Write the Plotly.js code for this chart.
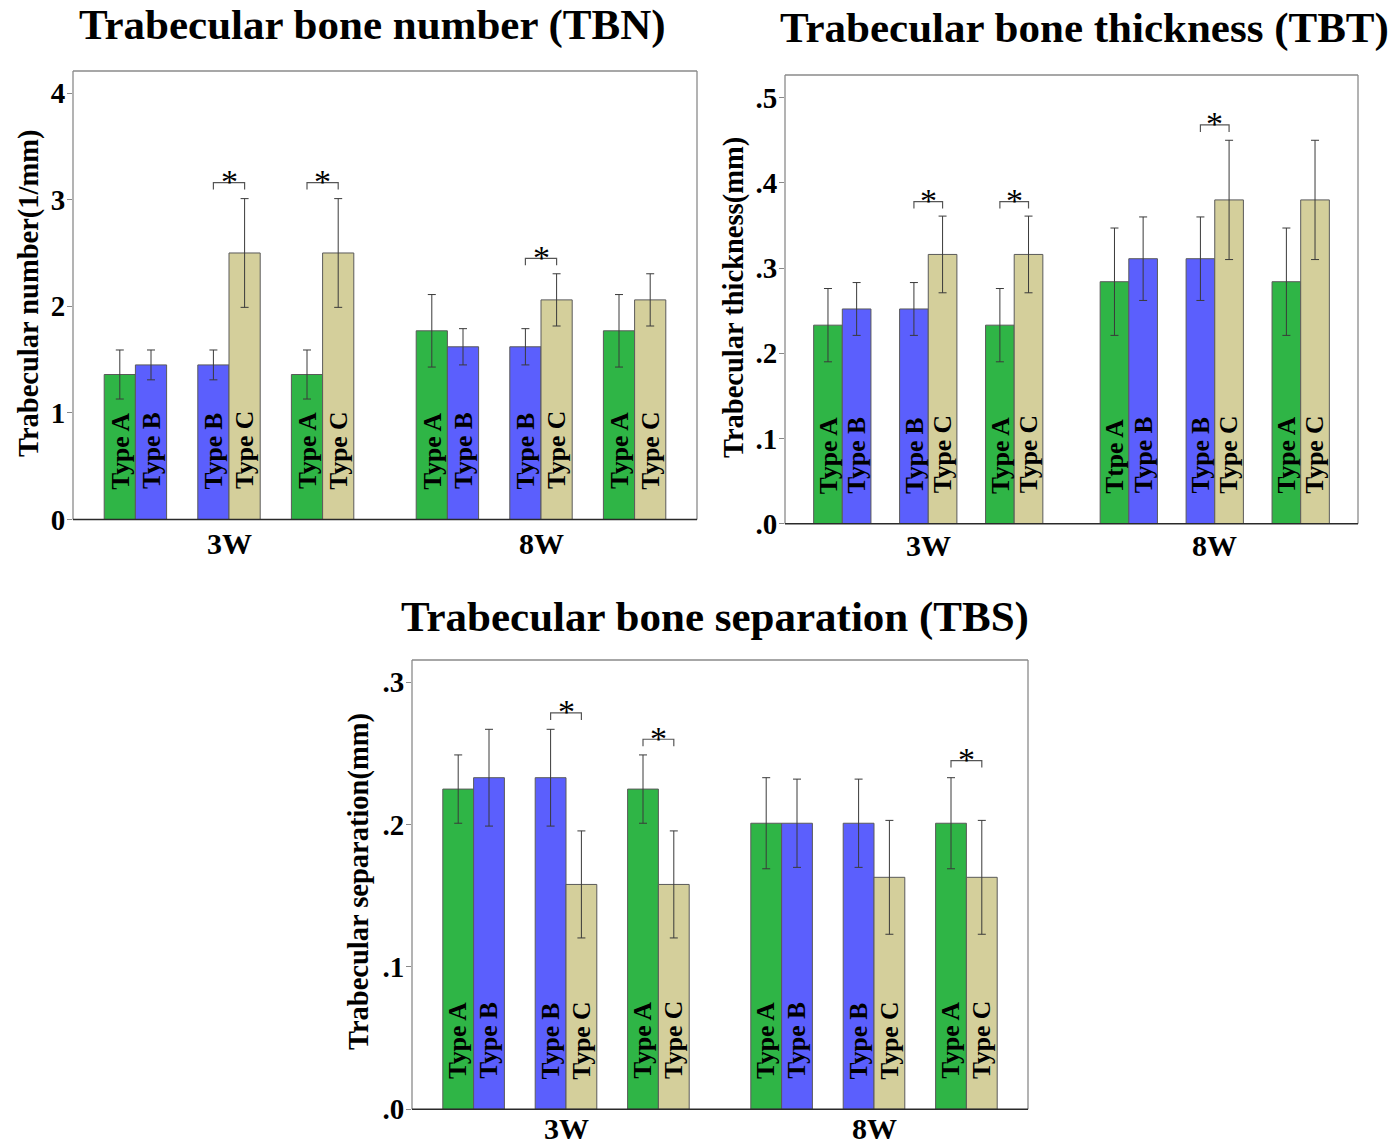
<!DOCTYPE html>
<html>
<head>
<meta charset="utf-8">
<script src="https://cdn.plot.ly/plotly-3.0.1.min.js"></script>
<style>html,body{margin:0;padding:0;background:#fff;}#chart{width:1390px;height:1147px;}</style>
</head>
<body>
<div id="chart"></div>
<script>
// ---------- data ----------
const groupLabels = ['3W', '8W'];
const leftTypes  = ['A', 'B', 'A', 'A', 'B', 'A'];
const rightTypes = ['B', 'C', 'C', 'B', 'C', 'C'];

// Trabecular bone number (TBN)
const tbnLeft      = [1.36, 1.45, 1.36, 1.77, 1.62, 1.77];
const tbnLeftErr   = [0.23, 0.14, 0.23, 0.34, 0.17, 0.34];
const tbnRight     = [1.45, 2.50, 2.50, 1.62, 2.06, 2.06];
const tbnRightErr  = [0.14, 0.51, 0.51, 0.17, 0.245, 0.245];
const tbnLeftLabels  = ['Type A', 'Type B', 'Type A', 'Type A', 'Type B', 'Type A'];
const tbnRightLabels = ['Type B', 'Type C', 'Type C', 'Type B', 'Type C', 'Type C'];
const tbnSigPairs  = [1, 2, 4];
const tbnSigLevels = [3.16, 3.16, 2.45];
const tbnTickVals  = [0, 1, 2, 3, 4];
const tbnTickText  = ['0', '1', '2', '3', '4'];

// Trabecular bone thickness (TBT)
const tbtLeft      = [0.233, 0.252, 0.233, 0.284, 0.311, 0.284];
const tbtLeftErr   = [0.043, 0.031, 0.043, 0.063, 0.049, 0.063];
const tbtRight     = [0.252, 0.316, 0.316, 0.311, 0.380, 0.380];
const tbtRightErr  = [0.031, 0.045, 0.045, 0.049, 0.070, 0.070];
const tbtLeftLabels  = ['Type A', 'Type B', 'Type A', 'Ttpe A', 'Type B', 'Type A'];
const tbtRightLabels = ['Type B', 'Type C', 'Type C', 'Type B', 'Type C', 'Type C'];
const tbtSigPairs  = [1, 2, 4];
const tbtSigLevels = [0.378, 0.378, 0.468];
const tbtTickVals  = [0, 0.1, 0.2, 0.3, 0.4, 0.5];
const tbtTickText  = ['.0', '.1', '.2', '.3', '.4', '.5'];

// Trabecular bone separation (TBS)
const tbsLeft      = [0.225, 0.233, 0.225, 0.201, 0.201, 0.201];
const tbsLeftErr   = [0.024, 0.034, 0.024, 0.032, 0.031, 0.032];
const tbsRight     = [0.233, 0.158, 0.158, 0.201, 0.163, 0.163];
const tbsRightErr  = [0.034, 0.0376, 0.0376, 0.031, 0.040, 0.040];
const tbsLeftLabels  = ['Type A', 'Type B', 'Type A', 'Type A', 'Type B', 'Type A'];
const tbsRightLabels = ['Type B', 'Type C', 'Type C', 'Type B', 'Type C', 'Type C'];
const tbsSigPairs  = [1, 2, 5];
const tbsSigLevels = [0.2785, 0.260, 0.245];
const tbsTickVals  = [0, 0.1, 0.2, 0.3];
const tbsTickText  = ['.0', '.1', '.2', '.3'];

// ---------- styling ----------
const W = 1390, H = 1147;
const typeColors = { A: '#2fb546', B: '#5b5ffd', C: '#d4cf9b' };
const SERIF = '"Liberation Serif", "Times New Roman", serif';

const panels = [
  { title: 'Trabecular bone number (TBN)', ytitle: 'Trabecular number(1/mm)',
    left: tbnLeft, leftErr: tbnLeftErr, right: tbnRight, rightErr: tbnRightErr,
    leftLabels: tbnLeftLabels, rightLabels: tbnRightLabels,
    sigPairs: tbnSigPairs, sigLevels: tbnSigLevels, tickVals: tbnTickVals, tickText: tbnTickText,
    yMax: 4.207, box: [73, 697, 71, 519.5], titlePos: [372, 25], ytitlePos: [29, 294], glOff: 24 },
  { title: 'Trabecular bone thickness (TBT)', ytitle: 'Trabecular thickness(mm)',
    left: tbtLeft, leftErr: tbtLeftErr, right: tbtRight, rightErr: tbtRightErr,
    leftLabels: tbtLeftLabels, rightLabels: tbtRightLabels,
    sigPairs: tbtSigPairs, sigLevels: tbtSigLevels, tickVals: tbtTickVals, tickText: tbtTickText,
    yMax: 0.5266, box: [785, 1358, 75, 523.7], titlePos: [1084, 28], ytitlePos: [734, 298], glOff: 22 },
  { title: 'Trabecular bone separation (TBS)', ytitle: 'Trabecular separation(mm)',
    left: tbsLeft, leftErr: tbsLeftErr, right: tbsRight, rightErr: tbsRightErr,
    leftLabels: tbsLeftLabels, rightLabels: tbsRightLabels,
    sigPairs: tbsSigPairs, sigLevels: tbsSigLevels, tickVals: tbsTickVals, tickText: tbsTickText,
    yMax: 0.3157, box: [412, 1028, 660, 1109.3], titlePos: [715, 617], ytitlePos: [359, 882], glOff: 19 }
];

// pair centre positions on a 0..20 bar-width axis (layout only)
function pairCenter(i) { return Math.floor(i / 3) * 10 + (i % 3) * 3 + 2; }
const centers = leftTypes.map((_, i) => pairCenter(i));

const traces = [], annotations = [], shapes = [];
const layout = {
  width: W, height: H, margin: { l: 0, r: 0, t: 0, b: 0 },
  paper_bgcolor: '#fff', plot_bgcolor: '#fff', showlegend: false,
  font: { family: SERIF, color: '#000' }
};

panels.forEach((p, k) => {
  const sfx = k === 0 ? '' : String(k + 1);
  const xa = 'x' + sfx, ya = 'y' + sfx;
  const [x0, x1, yTop, yBot] = p.box;
  const plotH = yBot - yTop;

  layout['xaxis' + sfx] = {
    domain: [x0 / W, x1 / W], anchor: ya, range: [0, 20],
    showgrid: false, zeroline: false, showticklabels: false, ticks: '', showline: false, fixedrange: true
  };
  layout['yaxis' + sfx] = {
    domain: [(H - yBot) / H, (H - yTop) / H], anchor: xa, range: [0, p.yMax],
    showgrid: false, zeroline: false, showline: false,
    ticks: 'outside', ticklen: 5, tickwidth: 1, tickcolor: '#888',
    tickvals: p.tickVals, ticktext: p.tickText, ticklabelstandoff: -4,
    tickfont: { family: SERIF, size: 29, weight: 'bold', color: '#000' }, fixedrange: true
  };

  const common = { type: 'bar', xaxis: xa, yaxis: ya, width: 1, hoverinfo: 'skip' };
  traces.push(Object.assign({}, common, {
    x: centers.map(c => c - 0.5), y: p.left,
    marker: { color: leftTypes.map(t => typeColors[t]), line: { color: '#5a5a5a', width: 1 } },
    error_y: { type: 'data', array: p.leftErr, visible: true, color: '#3a3a3a', thickness: 1, width: 4 }
  }));
  traces.push(Object.assign({}, common, {
    x: centers.map(c => c + 0.5), y: p.right,
    marker: { color: rightTypes.map(t => typeColors[t]), line: { color: '#5a5a5a', width: 1 } },
    error_y: { type: 'data', array: p.rightErr, visible: true, color: '#3a3a3a', thickness: 1, width: 4 }
  }));

  // bar labels
  centers.forEach((c, i) => {
    [[c - 0.5, p.leftLabels[i]], [c + 0.5, p.rightLabels[i]]].forEach(([xx, txt]) => {
      annotations.push({
        x: xx, y: 0, xref: xa, yref: ya, text: txt, showarrow: false, textangle: -90,
        xanchor: 'center', yanchor: 'bottom', yshift: 28,
        font: { family: SERIF, size: 25.5, weight: 'bold', color: '#000' }
      });
    });
  });

  // frame
  const gray = { color: '#8a8a8a', width: 1.3 };
  shapes.push({ type: 'line', xref: xa + ' domain', yref: ya + ' domain', x0: 0, x1: 0, y0: 0, y1: 1, line: gray, layer: 'above' });
  shapes.push({ type: 'line', xref: xa + ' domain', yref: ya + ' domain', x0: 1, x1: 1, y0: 0, y1: 1, line: gray, layer: 'above' });
  shapes.push({ type: 'line', xref: xa + ' domain', yref: ya + ' domain', x0: 0, x1: 1, y0: 1, y1: 1, line: gray, layer: 'above' });
  shapes.push({ type: 'line', xref: xa + ' domain', yref: ya + ' domain', x0: 0, x1: 1, y0: 0, y1: 0, line: { color: '#2a2a2a', width: 1.6 }, layer: 'above' });

  // significance brackets
  const tick = p.yMax * 7 / plotH;
  p.sigPairs.forEach((pi, j) => {
    const c = centers[pi], lv = p.sigLevels[j];
    shapes.push({
      type: 'path', xref: xa, yref: ya,
      path: `M ${c - 0.5},${lv - tick} L ${c - 0.5},${lv} L ${c + 0.5},${lv} L ${c + 0.5},${lv - tick}`,
      line: { color: '#555', width: 1.2 }
    });
    annotations.push({
      x: c, y: lv, xref: xa, yref: ya, text: '*', showarrow: false,
      xanchor: 'center', yanchor: 'middle', yshift: 1,
      font: { family: SERIF, size: 34, color: '#000' }
    });
  });

  // group labels under x axis
  groupLabels.forEach((g, gi) => {
    annotations.push({
      x: pairCenter(gi * 3 + 1), y: (H - yBot - p.glOff) / H, xref: xa, yref: 'paper',
      text: g, showarrow: false, xanchor: 'center', yanchor: 'middle',
      font: { family: SERIF, size: 30, weight: 'bold', color: '#000' }
    });
  });

  // panel title
  annotations.push({
    x: p.titlePos[0] / W, y: (H - p.titlePos[1]) / H, xref: 'paper', yref: 'paper',
    text: p.title, showarrow: false, xanchor: 'center', yanchor: 'middle',
    font: { family: SERIF, size: 43, weight: 'bold', color: '#000' }
  });
  // y axis title
  annotations.push({
    x: p.ytitlePos[0] / W, y: (H - p.ytitlePos[1]) / H, xref: 'paper', yref: 'paper',
    text: p.ytitle, showarrow: false, textangle: -90, xanchor: 'center', yanchor: 'middle',
    font: { family: SERIF, size: 28.5, weight: 'bold', color: '#000' }
  });
});

layout.annotations = annotations;
layout.shapes = shapes;

Plotly.newPlot('chart', traces, layout, { staticPlot: true, displayModeBar: false });
</script>
</body>
</html>
